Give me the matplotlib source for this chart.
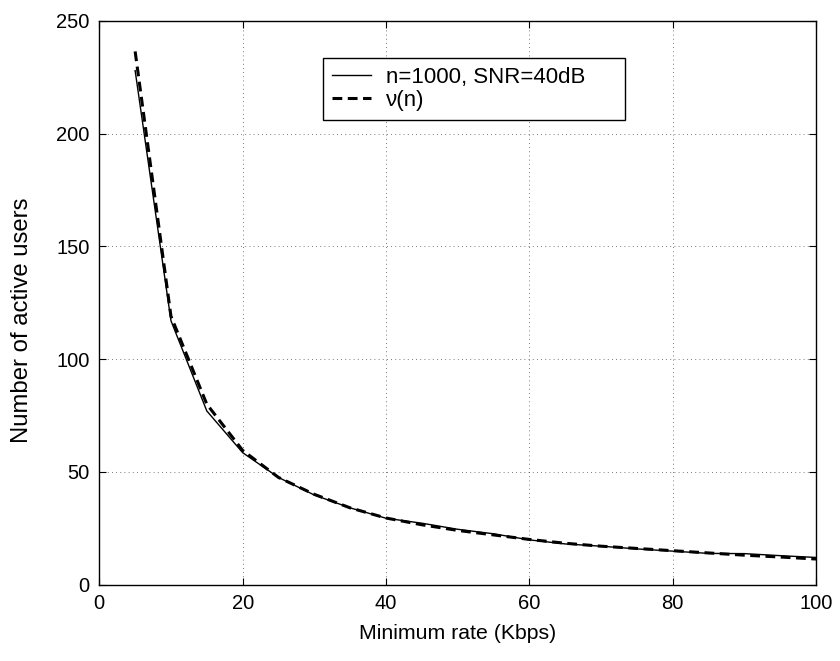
import matplotlib
matplotlib.use("Agg")
import matplotlib.pyplot as plt

rate = [5, 10, 15, 20, 25, 30, 35, 40, 45, 50, 55, 60, 65, 70, 75, 80, 85, 90, 95, 100]
users_sim = [228, 117, 77, 58.5, 47.5, 39.7, 34, 29.4, 27.2, 24.5, 22.5, 19.8, 18, 17, 15.8, 14.8, 13.8, 13.7, 12.8, 12]
users_nu = [236.5, 119, 80, 59.5, 47.5, 40, 34, 29.5, 26.5, 24, 22, 20, 18.3, 17, 16, 15, 14, 13, 12.2, 11.3]
xticks = [0, 20, 40, 60, 80, 100]
yticks = [0, 50, 100, 150, 200, 250]

plt.rcParams['font.family'] = ['Liberation Sans', 'DejaVu Sans']
fig = plt.figure(figsize=(8.4, 6.61), dpi=100)
ax = fig.add_axes([99.3/840, 1-584.5/661, (816-99.3)/840, (584.5-21)/661])

ax.plot(rate, users_sim, color='black', lw=1.0, label='n=1000, SNR=40dB')
ax.plot(rate, users_nu, color='black', lw=2.2, linestyle=(0, (3.2, 1.8)), label='\u03bd(n)')

ax.set_xlim(0, 100)
ax.set_ylim(0, 250)
ax.set_xticks(xticks)
ax.set_yticks(yticks)
ax.grid(True, linestyle=(0, (1, 4)), color='black', lw=0.6, alpha=0.7)
ax.tick_params(direction='in', top=True, right=True, labelsize=14.5, length=5, width=0.8, pad=7)
for s in ax.spines.values():
    s.set_linewidth(1.0)
ax.set_xlabel('Minimum rate (Kbps)', fontsize=15.3, labelpad=8)
ax.set_ylabel('Number of active users', fontsize=17.2)
ax.yaxis.set_label_coords(-0.093, 0.469)

leg = ax.legend(loc='upper left', bbox_to_anchor=(323/840, 1-120/661, 302/840, 62/661),
                bbox_transform=fig.transFigure, mode='expand',
                fontsize=16, frameon=True, fancybox=False, framealpha=1, edgecolor='black',
                handlelength=1.75, borderpad=0.4, labelspacing=0.1, handletextpad=0.7, borderaxespad=0)
leg.get_frame().set_linewidth(1.0)

fig.savefig('out.png', dpi=100)
